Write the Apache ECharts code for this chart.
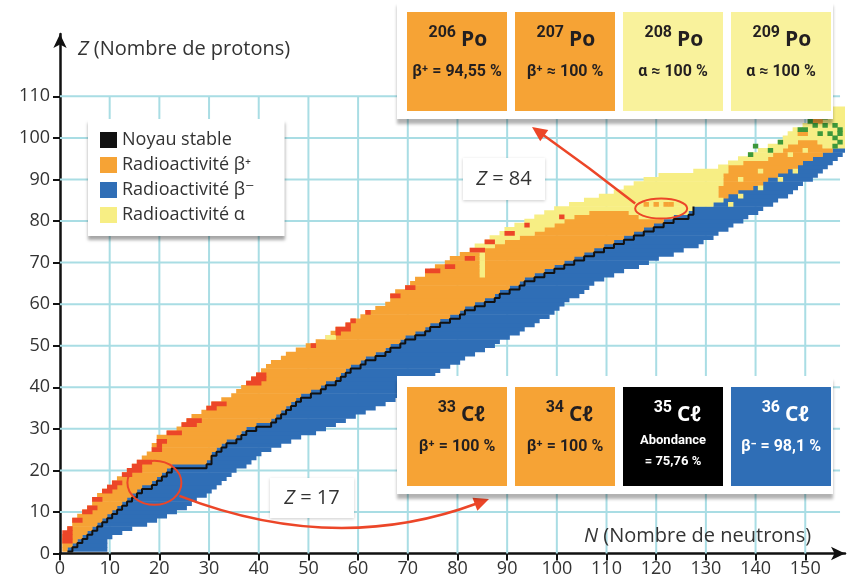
<!DOCTYPE html>
<html>
<head>
<meta charset="utf-8">
<script src="https://cdn.jsdelivr.net/npm/echarts@6/dist/echarts.min.js"></script>
<style>
html, body { margin: 0; padding: 0; background: #fff; }
#main { width: 849px; height: 585px; }
</style>
</head>
<body>
<div id="main"></div>
<script>
// axis ticks
var nTicks = [0, 10, 20, 30, 40, 50, 60, 70, 80, 90, 100, 110, 120, 130, 140, 150];
var zTicks = [0, 10, 20, 30, 40, 50, 60, 70, 80, 90, 100, 110];

// one entry per row, Z = 1 .. 107 (N values of the cells)
var nFirst = [
    1, 1, 1, 1, 2, 2, 3, 3, 4, 5,
    6, 7, 7, 8, 9, 10, 11, 12, 13, 14,
    15, 16, 17, 18, 19, 19, 20, 20, 22, 24,
    25, 26, 27, 29, 30, 31, 33, 35, 36, 37,
    38, 39, 40, 41, 42, 43, 45, 46, 48, 50,
    52, 54, 55, 56, 58, 59, 61, 62, 64, 66,
    67, 67, 68, 70, 71, 72, 74, 75, 76, 78,
    79, 81, 83, 84, 86, 87, 89, 90, 92, 94,
    96, 98, 100, 103, 106, 109, 112, 114, 116, 118,
    121, 128, 133, 135, 137, 139, 141, 143, 145, 146,
    147, 148, 150, 152, 153, 154, 155
];
// last N of the alpha part on the left of the row (0 = none)
var nAlphaEnd = [
    0, 0, 0, 0, 0, 0, 0, 0, 0, 0,
    0, 0, 0, 0, 0, 0, 0, 0, 0, 0,
    0, 0, 0, 0, 0, 0, 0, 0, 0, 0,
    0, 0, 0, 0, 0, 0, 0, 0, 0, 0,
    0, 0, 0, 0, 0, 0, 0, 0, 0, 0,
    0, 0, 0, 0, 0, 0, 0, 0, 0, 0,
    0, 0, 0, 0, 0, 0, 0, 0, 0, 0,
    0, 0, 85, 87, 89, 92, 95, 97, 99, 101,
    103, 106, 127, 131, 133, 132, 132, 132, 133, 133,
    133, 134, 134, 137, 142, 143, 145, 146, 148, 158,
    158, 158, 158, 158, 158, 158, 158
];
// last N of the beta+ part (0 = up to the beta- part)
var nOrangeEnd = [
    0, 0, 0, 0, 0, 0, 0, 0, 0, 0,
    0, 0, 0, 0, 0, 0, 0, 0, 0, 0,
    0, 0, 0, 0, 0, 0, 0, 0, 0, 0,
    0, 0, 0, 0, 0, 0, 0, 0, 0, 0,
    0, 0, 0, 0, 0, 0, 0, 0, 0, 0,
    0, 0, 0, 0, 0, 0, 0, 0, 0, 0,
    0, 0, 0, 0, 0, 0, 0, 0, 0, 0,
    0, 0, 0, 0, 0, 0, 0, 0, 0, 0,
    116, 114, 0, 0, 0, 0, 0, 0, 0, 0,
    0, 0, 0, 0, 0, 0, 0, 153, 152, 0,
    0, 0, 0, 0, 0, 0, 0
];
// first N of the beta- part (0 = none)
var nBlueStart = [
    2, 3, 4, 5, 6, 7, 8, 9, 10, 11,
    12, 13, 14, 15, 16, 17, 19, 20, 21, 22,
    23, 30, 31, 31, 32, 33, 34, 36, 37, 38,
    40, 43, 44, 45, 46, 47, 48, 49, 51, 53,
    54, 56, 57, 58, 59, 61, 62, 64, 66, 67,
    69, 70, 72, 74, 75, 77, 79, 81, 82, 84,
    86, 88, 89, 91, 93, 94, 96, 98, 100, 102,
    104, 106, 108, 110, 112, 114, 116, 118, 120, 122,
    124, 127, 128, 132, 134, 135, 137, 140, 142, 143,
    145, 147, 149, 150, 152, 154, 156, 0, 0, 0,
    0, 0, 0, 0, 0, 0, 0
];
var nLast = [
    9, 9, 9, 10, 12, 14, 17, 19, 21, 23,
    25, 26, 27, 29, 30, 31, 32, 33, 34, 35,
    37, 38, 39, 40, 42, 44, 46, 48, 51, 53,
    55, 57, 59, 61, 63, 65, 67, 69, 70, 71,
    72, 73, 75, 76, 78, 80, 81, 83, 85, 87,
    88, 90, 92, 93, 95, 96, 98, 99, 100, 101,
    102, 104, 105, 106, 107, 109, 111, 113, 116, 118,
    120, 123, 125, 128, 129, 131, 132, 134, 135, 137,
    138, 140, 141, 143, 144, 146, 147, 148, 149, 151,
    152, 153, 154, 155, 156, 157, 158, 158, 158, 158,
    158, 158, 158, 158, 158, 158, 158
];
var lastStableZ = 83;

// [N, Z, length] of the red dashes on the proton side
var redDashes = [
    [1, 3, 2], [1, 4, 2], [1, 5, 2], [2, 6, 1], [3, 8, 2], [5, 10, 2], [6, 11, 2], [7, 13, 2],
    [9, 15, 2], [10, 16, 2], [11, 17, 2], [13, 19, 2], [14, 20, 3], [15, 21, 2], [16, 22, 3],
    [19, 25, 2], [20, 26, 1], [20, 27, 2], [22, 29, 3], [25, 31, 3], [26, 32, 3], [30, 35, 2],
    [31, 36, 3], [38, 41, 3], [39, 42, 3], [40, 43, 2], [51, 50, 1], [56, 53, 1], [56, 54, 3],
    [58, 55, 1], [59, 56, 1], [62, 58, 1], [67, 62, 2], [70, 64, 2], [74, 68, 3], [78, 69, 2],
    [82, 71, 2], [83, 73, 3], [86, 75, 2], [90, 77, 2], [94, 79, 1], [101, 81, 1]
];
// single [N, Z] cells
var alphaDots = [
    [54, 52], [55, 52], [85, 67], [85, 68], [85, 69], [85, 70], [85, 71], [85, 72],
    [135, 84], [137, 86], [141, 88], [145, 90], [148, 92],
    [137, 90], [141, 92], [147, 96], [150, 97]
];
var plusDots = [[118, 84], [120, 84], [122, 84], [123, 84], [149, 101], [150, 101], [152, 104], [153, 104]];
var fissionDots = [
    [139, 96], [140, 98], [143, 97], [145, 99], [149, 102], [150, 102], [152, 103], [154, 103],
    [153, 101], [155, 101], [156, 100], [156, 98], [157, 99], [157, 101], [157, 102], [156, 103],
    [151, 104], [154, 105]
];

// zoom boxes
var poMass = ['206', '207', '208', '209'];
var poDecay = [['β⁺ = 94,55 %'], ['β⁺ ≈ 100 %'], ['α ≈ 100 %'], ['α ≈ 100 %']];
var poKind = ['plus', 'plus', 'alpha', 'alpha'];
var clMass = ['33', '34', '35', '36'];
var clDecay = [['β⁺ = 100 %'], ['β⁺ = 100 %'], ['Abondance', '= 75,76 %'], ['β⁻ = 98,1 %']];
var clKind = ['plus', 'plus', 'stable', 'minus'];
var clMark = [19, 17];
var poMark = [121, 83];

var cOrange = '#f6a335', cBlue = '#2f6eb6', cYellow = '#f7ee84', cRed = '#ec4628', cGreen = '#3d983a', cBlack = '#111';
var sans = '"Open Sans", "DejaVu Sans", sans-serif';
var narrow = 'Roboto, "DejaVu Sans", sans-serif';

var segAlpha = [], segPlus = [], segMinus = [], stablePts = [];
for (var i = 0; i < nFirst.length; i++) {
    var z = i + 1;
    var first = nFirst[i], last = nLast[i];
    var blue = nBlueStart[i] || (last + 1);
    var aEnd = nAlphaEnd[i] ? Math.min(nAlphaEnd[i], blue - 1) : first - 1;
    var oEnd = nOrangeEnd[i] || (blue - 1);
    if (aEnd >= first) segAlpha.push([first, aEnd, z]);
    if (oEnd >= aEnd + 1) segPlus.push([aEnd + 1, oEnd, z]);
    if (blue - 1 >= oEnd + 1) segAlpha.push([oEnd + 1, blue - 1, z]);
    if (last >= blue) segMinus.push([blue, last, z]);
    if (z <= lastStableZ) stablePts.push([nBlueStart[i] - 0.5, z - 0.5]);
}
stablePts.push([nBlueStart[lastStableZ - 1] - 0.5, lastStableZ + 0.5]);

function dots(list) {
    return list.map(function (d) { return [d[0], d[0] + (d[2] || 1) - 1, d[1]]; });
}

var gridLines = [];
nTicks.forEach(function (n) { if (n > 0) gridLines.push([n, 0, n, 110]); });
zTicks.forEach(function (zz) { if (zz > 0) gridLines.push([0, zz, 157, zz]); });

function renderCells(params, api) {
    var p0 = api.coord([api.value(0) - 0.5, api.value(2) + 0.5]);
    var p1 = api.coord([api.value(1) + 0.5, api.value(2) - 0.5]);
    return {
        type: 'rect',
        shape: { x: p0[0] - 0.2, y: p0[1] - 0.3, width: p1[0] - p0[0] + 0.4, height: p1[1] - p0[1] + 0.6 },
        style: { fill: api.visual('color') }
    };
}
function renderGrid(params, api) {
    var a = api.coord([api.value(0), api.value(1)]);
    var b = api.coord([api.value(2), api.value(3)]);
    return { type: 'line', shape: { x1: a[0], y1: a[1], x2: b[0], y2: b[1] }, style: { stroke: '#a9dde4', lineWidth: 2 } };
}
function cellSeries(name, data, color, z) {
    return {
        type: 'custom', name: name, data: data, renderItem: renderCells,
        itemStyle: { color: color }, encode: { x: [0, 1], y: 2 }, clip: true, silent: true, z: z
    };
}

var axisCommon = {
    type: 'value',
    splitLine: { show: false },
    axisLine: { show: true, symbol: ['none', 'arrow'], symbolSize: [10, 14], lineStyle: { color: cBlack, width: 2.5 } },
    axisTick: { show: true, length: 7, lineStyle: { color: cBlack, width: 2 } },
    axisLabel: { fontFamily: sans, fontSize: 18, color: '#333' }
};

var option = {
    animation: false,
    backgroundColor: '#fff',
    grid: { left: 60, right: 4, top: 34, bottom: 31.5 },
    xAxis: echarts.util.merge({
        min: 0, max: 158, interval: 10,
        axisTick: { customValues: nTicks },
        axisLabel: { customValues: nTicks, margin: 6 }
    }, axisCommon),
    yAxis: echarts.util.merge({
        min: 0, max: 125, interval: 10,
        axisTick: { customValues: zTicks },
        axisLabel: { customValues: zTicks, margin: 10 }
    }, axisCommon),
    legend: {
        data: ['Noyau stable', 'Radioactivité β⁺', 'Radioactivité β⁻', 'Radioactivité α'],
        orient: 'vertical', left: 88, top: 119,
        icon: 'rect', itemWidth: 17, itemHeight: 16, itemGap: 7,
        padding: [12, 30, 12, 12],
        backgroundColor: '#fff',
        shadowColor: 'rgba(0,0,0,0.35)', shadowBlur: 3, shadowOffsetY: 4,
        selectedMode: false,
        textStyle: { fontFamily: sans, fontSize: 18, color: '#333' }
    },
    series: [
        { type: 'custom', name: 'grille', data: gridLines, renderItem: renderGrid, silent: true, z: 1 },
        cellSeries('Radioactivité β⁻', segMinus, cBlue, 2),
        cellSeries('Radioactivité β⁺', segPlus, cOrange, 2),
        cellSeries('Radioactivité α', segAlpha, cYellow, 2),
        cellSeries('α ponctuel', dots(alphaDots), cYellow, 3),
        cellSeries('β⁺ ponctuel', dots(plusDots), cOrange, 3),
        cellSeries('émission p', dots(redDashes), cRed, 3),
        cellSeries('fission', dots(fissionDots), cGreen, 3),
        {
            type: 'line', name: 'Noyau stable', data: stablePts, step: 'end',
            symbol: 'none', showSymbol: false, silent: true, z: 4,
            lineStyle: { color: cBlack, width: 2 }, itemStyle: { color: cBlack }
        }
    ]
};

var chart = echarts.init(document.getElementById('main'));
chart.setOption(option);

function txt(x, y, s, font, fill, align, extra) {
    var st = { text: s, font: font, fill: fill, align: align || 'center', verticalAlign: 'middle' };
    if (extra) st.rich = extra;
    return { type: 'text', x: x, y: y, z: 95, style: st };
}

var boxFill = { plus: cOrange, alpha: '#f9f29c', stable: '#000', minus: cBlue };

function nuclideBox(left, top, mass, sym, decay, kinds, out) {
    out.push({
        type: 'rect', z: 90, shape: { x: left - 10, y: top - 11, width: 436, height: 118 },
        style: { fill: '#fff', shadowBlur: 3, shadowOffsetY: 5, shadowColor: 'rgba(0,0,0,0.3)' }
    });
    for (var i = 0; i < mass.length; i++) {
        var x = left + i * 108, cx = x + 50;
        var ink = (kinds[i] == 'plus' || kinds[i] == 'alpha') ? '#231f20' : '#fff';
        out.push({ type: 'rect', z: 91, shape: { x: x, y: top, width: 100, height: 99 }, style: { fill: boxFill[kinds[i]] } });
        out.push(txt(cx - 1, top + 21, mass[i], 'bold 16px ' + narrow, ink, 'right'));
        out.push(txt(cx + 4, top + 28, sym, 'bold 21px ' + sans, ink, 'left'));
        var lines = decay[i];
        if (lines.length == 1) {
            out.push(txt(cx, top + 60, lines[0], 'bold 16px ' + narrow, ink));
        } else {
            out.push(txt(cx, top + 54, lines[0], 'bold 13px ' + narrow, ink));
            out.push(txt(cx, top + 75, lines[1], 'bold 13px ' + narrow, ink));
        }
    }
}

function arrow(x1, y1, cx, cy, x2, y2, out) {
    var dx = x2 - cx, dy = y2 - cy, len = Math.sqrt(dx * dx + dy * dy);
    dx /= len; dy /= len;
    var bx = x2 - dx * 15, by = y2 - dy * 15;
    out.push({
        type: 'bezierCurve', z: 80,
        shape: { x1: x1, y1: y1, x2: bx + dx * 2, y2: by + dy * 2, cpx1: cx, cpy1: cy },
        style: { stroke: cRed, lineWidth: 2.5, fill: 'none' }
    });
    out.push({
        type: 'polygon', z: 80,
        shape: { points: [[x2, y2], [bx - dy * 7, by + dx * 7], [bx + dy * 7, by - dx * 7]] },
        style: { fill: cRed }
    });
}

var ital = { i: { fontStyle: 'italic', fontSize: 20, fontFamily: sans, fill: '#333' } };
var gfx = [];
var p17 = chart.convertToPixel({ gridIndex: 0 }, clMark);
var p84 = chart.convertToPixel({ gridIndex: 0 }, poMark);

gfx.push(txt(78, 49, '{i|Z} (Nombre de protons)', '20px ' + sans, '#333', 'left', ital));
gfx.push(txt(584, 536, '{i|N} (Nombre de neutrons)', '20px ' + sans, '#333', 'left', ital));

gfx.push({ type: 'ellipse', z: 80, shape: { cx: p17[0], cy: p17[1], rx: 27, ry: 22 }, style: { fill: 'none', stroke: cRed, lineWidth: 2 } });
gfx.push({ type: 'ellipse', z: 80, shape: { cx: p84[0], cy: p84[1], rx: 26, ry: 10 }, style: { fill: 'none', stroke: cRed, lineWidth: 2 } });
arrow(p17[0] + 25, p17[1] + 13, 335, 556, 489, 499, gfx);
arrow(p84[0] - 26, p84[1] - 5, 590, 168, 532, 127, gfx);

gfx.push({ type: 'rect', z: 85, shape: { x: 270, y: 478, width: 84, height: 40 }, style: { fill: '#fff', shadowBlur: 3, shadowColor: 'rgba(0,0,0,0.2)', shadowOffsetY: 1 } });
gfx.push(txt(312, 498, '{i|Z} = 17', '20px ' + sans, '#333', 'center', ital));
gfx.push({ type: 'rect', z: 85, shape: { x: 463, y: 158, width: 82, height: 42 }, style: { fill: '#fff', shadowBlur: 3, shadowColor: 'rgba(0,0,0,0.2)', shadowOffsetY: 1 } });
gfx.push(txt(504, 179, '{i|Z} = 84', '20px ' + sans, '#333', 'center', ital));

nuclideBox(407, 12, poMass, 'Po', poDecay, poKind, gfx);
nuclideBox(407, 387, clMass, 'Cℓ', clDecay, clKind, gfx);

chart.setOption({ graphic: gfx });
</script>
</body>
</html>
